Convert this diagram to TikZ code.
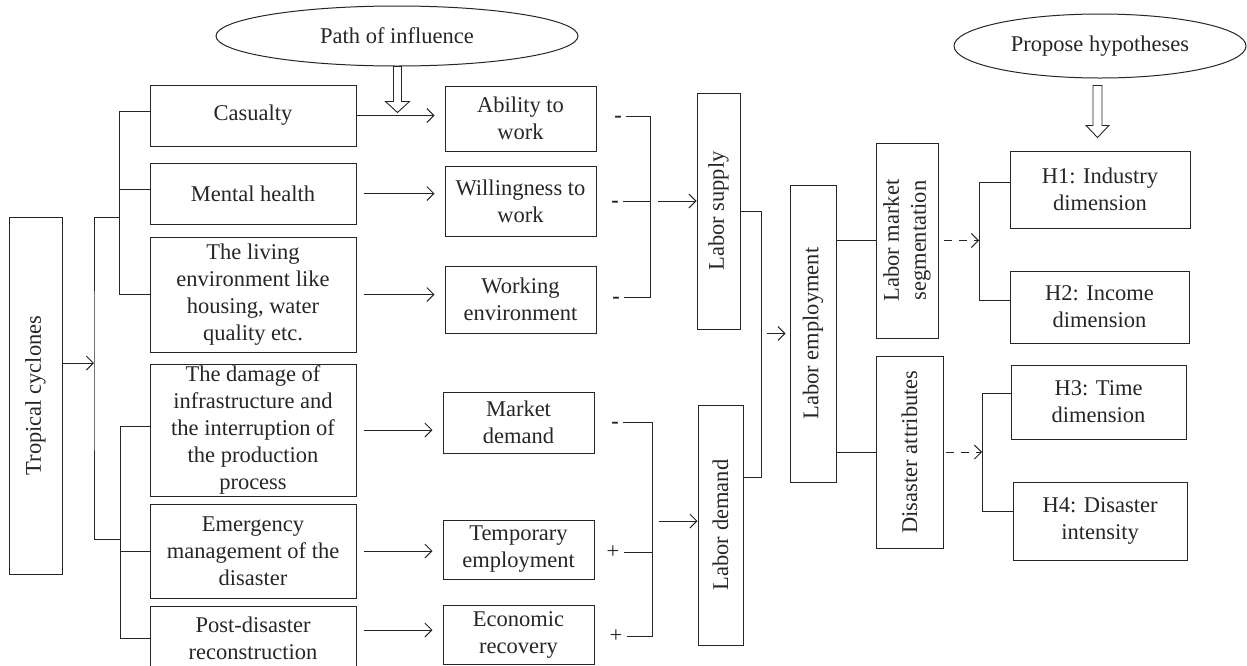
\documentclass[tikz,border=0pt]{standalone}
\usepackage{fontspec}
\setmainfont{Liberation Serif}
\usepackage{graphicx}
\usetikzlibrary{arrows.meta, shapes.geometric}

\tikzset{
	box/.style={draw, line width=1pt, align=center, inner sep=0pt},
	oval/.style={draw, ellipse, line width=1pt, inner sep=0pt},
	link/.style={line width=0.9pt},
	arr/.style={link, -{Straight Barb[length=7pt, width=14pt]}},
	flow/.style={arr, shorten <=7pt, shorten >=10pt},
	dasharr/.style={arr, dash pattern=on 8pt off 7pt},
	sign/.style={inner sep=4pt}
}

\begin{document}
\begin{tikzpicture}[x=1pt, y=-1pt, font=\fontsize{22.5}{27}\selectfont, color=black!85]
			\useasboundingbox (0,0) rectangle (1247,665);
			
			% Source
			\node[box, minimum width=53pt, minimum height=357pt] (trop) at (35.5,395.5) {\rotatebox{90}{Tropical cyclones}};
			
			% Impacts
			\node[box, minimum width=206pt, minimum height=61pt] (cas) at (253,115.5) {Casualty};
			\node[box, minimum width=206pt, minimum height=61pt] (mental) at (253,193.5) {Mental health};
			\node[box, minimum width=206pt, minimum height=115pt] (living) at (253,294.5) {The living\\environment like\\housing, water\\quality etc.};
			\node[box, minimum width=206pt, minimum height=132pt] (damage) at (253,430) {The damage of\\infrastructure and\\the interruption of\\the production\\process};
			\node[box, minimum width=206pt, minimum height=94pt] (emerg) at (253,551) {Emergency\\management of the\\disaster};
			\node[box, minimum width=206pt, minimum height=64pt] (post) at (253,638) {Post-disaster\\reconstruction};
			
			% Channels
			\node[box, minimum width=151pt, minimum height=65pt] (ability) at (520.5,118.5) {Ability to\\work};
			\node[box, minimum width=151pt, minimum height=70pt] (willing) at (520.5,201) {Willingness to\\work};
			\node[box, minimum width=151pt, minimum height=67pt] (working) at (520.5,299.5) {Working\\environment};
			\node[box, minimum width=151pt, minimum height=61pt] (market) at (518.5,422.5) {Market\\demand};
			\node[box, minimum width=151pt, minimum height=59pt] (temp) at (518.5,549.5) {Temporary\\employment};
			\node[box, minimum width=151pt, minimum height=59pt] (econ) at (518.5,634.5) {Economic\\recovery};
			
			% Labor market
			\node[box, minimum width=43pt, minimum height=236pt] (supply) at (718.5,211) {\rotatebox{90}{Labor supply}};
			\node[box, minimum width=45pt, minimum height=240pt] (demand) at (720.5,525) {\rotatebox{90}{Labor demand}};
			\node[box, minimum width=46pt, minimum height=297pt] (employ) at (813,333.5) {\rotatebox{90}{Labor employment}};
			\node[box, minimum width=62pt, minimum height=195pt] (segm) at (907,240.5) {\rotatebox{90}{\begin{tabular}{@{}c@{}}Labor market\\segmentation\end{tabular}}};
			\node[box, minimum width=67pt, minimum height=192pt] (disattr) at (909.5,452) {\rotatebox{90}{Disaster attributes}};
			
			% Hypotheses
			\node[box, minimum width=180pt, minimum height=77pt] (h1) at (1100,189.5) {H1: Industry\\dimension};
			\node[box, minimum width=179pt, minimum height=72pt] (h2) at (1099.5,307) {H2: Income\\dimension};
			\node[box, minimum width=175pt, minimum height=74pt] (h3) at (1098.5,402) {H3: Time\\dimension};
			\node[box, minimum width=174pt, minimum height=78pt] (h4) at (1100,521) {H4: Disaster\\intensity};
			
			% Headings
			\node[oval, minimum width=362pt, minimum height=60pt] (path) at (397,36) {Path of influence};
			\node[oval, minimum width=292pt, minimum height=64pt] (hyp) at (1100,46) {Propose hypotheses};
			\draw[link] ([xshift=-3.5pt]path.south) -- ++(0,35) -- ++(-8,0) -- ++(12,11) -- ++(12,-11) -- ++(-8,0) -- ++(0,-35) -- cycle;
			\draw[link] ([xshift=-7pt, yshift=-7pt]hyp.south) -- ++(0,40) -- ++(-7,0) -- ++(11.5,12) -- ++(11.5,-12) -- ++(-7,0) -- ++(0,-40) -- cycle;
			
			% Tree on the left
			\coordinate (jin) at (94,363);
			\coordinate (jtop) at (119,217);
			\coordinate (jbot) at (120,539);
			\draw[arr] (trop.east |- jin) -- (jin);
			\draw[link] (jtop) -| (jin) |- (jbot);
			\draw[link] ([yshift=4pt]cas.west) -| (jtop |- living.west) -- (living.west);
			\draw[link] ([yshift=4pt]mental.west) -- ++(-31,0);
			\draw[link] ([yshift=4pt]damage.west) -| (jbot |- post.west) -- (post.west);
			\draw[link] (emerg.west) -- ++(-30,0);
			
			% Impacts to channels
			\draw[arr, shorten >=10pt] (cas.east) -- (ability.west |- cas.east);
			\draw[flow] (mental.east) -- (willing.west |- mental.east);
			\draw[flow] (living.east) -- (working.west |- living.east);
			\draw[flow] (damage.east) -- (market.west |- damage.east);
			\draw[flow] (emerg.east) -- (temp.west |- emerg.east);
			\draw[flow] ([yshift=8pt]post.east) -- ([yshift=8pt]post.east -| econ.west);
			
			% Signs, supply side
			\node[sign] (s1) at (618,119) {\textbf{-}};
			\node[sign] (s2) at (615,204) {\textbf{-}};
			\node[sign] (s3) at (616,300) {\textbf{-}};
			\coordinate (sb) at (650,201);
			\draw[link] (s1.east |- 0,116) -| (sb |- 0,297) -- (s3.east |- 0,297);
			\draw[link] (s2.east |- sb) -- (sb);
			\draw[arr, shorten <=8pt] (sb) -- (supply.west |- sb);
			
			% Signs, demand side
			\node[sign] (s4) at (615,425) {\textbf{-}};
			\node[sign] (s5) at (613,552) {+};
			\node[sign] (s6) at (616,636) {+};
			\coordinate (db) at (652,521);
			\draw[link] (s4.east |- 0,422) -| (db |- s6.east) -- (s6.east);
			\draw[link] (s5.east) -- (db |- s5.east);
			\draw[arr, shorten <=7pt] (db) -- (demand.west |- db);
			
			% Supply and demand to employment
			\coordinate (sd) at (761,477);
			\draw[link] (supply.east) -| (sd) -- (sd -| demand.east);
			\draw[arr, shorten <=6pt, shorten >=4pt] (sd |- employ.west) -- (employ.west);
			\draw[link] (employ.east |- segm.west) -- (segm.west);
			\draw[link] (employ.east |- disattr.west) -- (disattr.west);
			
			% To hypotheses
			\coordinate (hb1) at (979,240.5);
			\coordinate (hb2) at (982,452);
			\draw[dasharr, shorten <=5pt] (segm.east) -- (hb1);
			\draw[dasharr, shorten <=2pt] (disattr.east) -- (hb2);
			\draw[link] ([yshift=7pt]h1.west) -| ([yshift=7pt]hb1 |- h2.west) -- ([yshift=7pt]h2.west);
			\draw[link] ([yshift=9pt]h3.west) -| ([yshift=9.5pt]hb2 |- h4.west) -- ([yshift=9.5pt]h4.west);
			
		\end{tikzpicture}
\end{document}
